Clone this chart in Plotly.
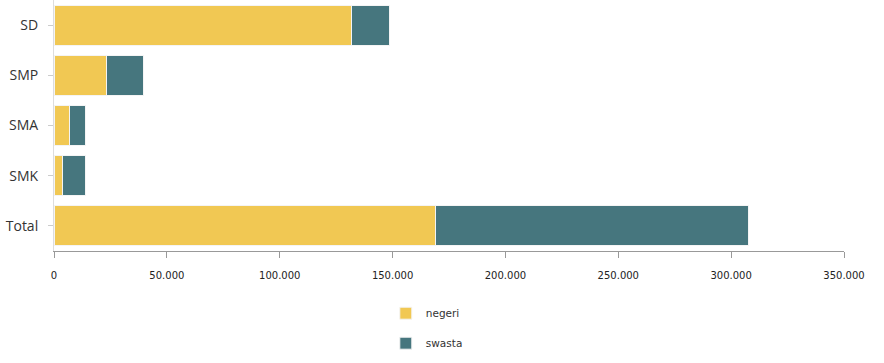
import plotly.graph_objects as go

categories = ["SD", "SMP", "SMA", "SMK", "Total"]
negeri = [131900, 23400, 6900, 3800, 169200]
swasta = [16700, 16100, 7000, 10100, 138400]
x_ticks = [0, 50000, 100000, 150000, 200000, 250000, 300000, 350000]

YELLOW = "#F1C853"
TEAL = "#46767E"

fig = go.Figure()
fig.add_trace(go.Bar(y=categories, x=negeri, name="negeri", orientation="h",
                     marker=dict(color=YELLOW, line=dict(color="#f4f4f4", width=1)),
                     legendgroup="a"))
fig.add_trace(go.Bar(y=categories, x=swasta, name="swasta", orientation="h",
                     marker=dict(color=TEAL, line=dict(color="#f4f4f4", width=1)),
                     legendgroup="b"))

fig.update_layout(
    barmode="stack",
    bargap=0.2,
    width=884, height=363,
    margin=dict(l=54, r=40, t=0, b=112),
    plot_bgcolor="white", paper_bgcolor="white",
    separators=",.",
    font=dict(family="DejaVu Sans", color="#333"),
    legend=dict(orientation="v", x=0.42, xanchor="left", y=-0.19, yanchor="top",
                font=dict(size=10.5, color="#333"), tracegroupgap=11,
                traceorder="grouped"),
    xaxis=dict(range=[0, 350000], tickvals=x_ticks, tickformat=",d",
               showgrid=False, zeroline=False, showline=True, linecolor="#999",
               linewidth=1, ticks="outside", ticklen=6, tickcolor="#999",
               ticklabelstandoff=9,
               tickfont=dict(size=10, color="#222")),
    yaxis=dict(categoryorder="array", categoryarray=categories[::-1],
               showgrid=False, zeroline=False, showline=True, linecolor="#ddd",
               linewidth=1, ticks="outside", ticklen=5, tickcolor="#ccc",
               ticklabelstandoff=7,
               tickfont=dict(family="Open Sans", size=14, color="#333")),
)

fig.write_html("out.html", post_script="document.body.style.margin='0';",
               config={"displayModeBar": False})
